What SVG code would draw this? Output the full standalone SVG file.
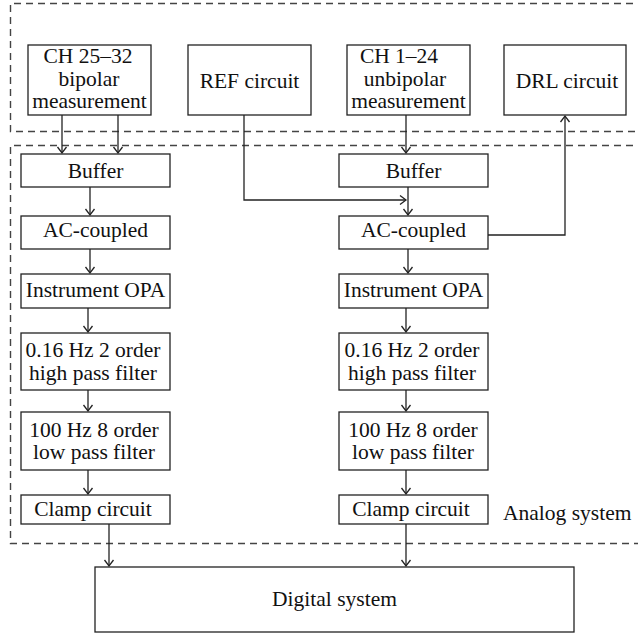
<svg xmlns="http://www.w3.org/2000/svg" width="638" height="636" viewBox="0 0 638 636">
<defs>
<style>
.box{fill:#fff;stroke:#222;stroke-width:1.3}
.dash{fill:none;stroke:#444;stroke-width:1.4;stroke-dasharray:7 5}
.ln{fill:none;stroke:#222;stroke-width:1.3}
.ah{fill:none;stroke:#222;stroke-width:1.3}
text{font-family:"Liberation Serif","Times New Roman",serif;font-size:21.5px;fill:#111;text-anchor:middle}
</style>
</defs>
<rect width="638" height="636" fill="#fff"/>
<g id="frames">
<path class="dash" d="M645,3.5 H10.5 V131.5 H645"/>
<path class="dash" d="M645,145.5 H10.5 V543.5 H645"/>
</g>
<g id="connectors">
<path class="ln" d="M62,115 V153"/><path class="ah" d="M57.5,147 L62,153 L66.5,147"/>
<path class="ln" d="M118,115 V153"/><path class="ah" d="M113.5,147 L118,153 L122.5,147"/>
<path class="ln" d="M406,115 V153"/><path class="ah" d="M401.5,147 L406,153 L410.5,147"/>
<path class="ln" d="M244,115 V200 H406"/><path class="ah" d="M400,195.5 L406,200 L400,204.5"/>
<path class="ln" d="M488,235 H565 V116"/><path class="ah" d="M560.5,122 L565,116 L569.5,122"/>
<path class="ln" d="M90,187 V215"/><path class="ah" d="M85.5,209 L90,215 L94.5,209"/>
<path class="ln" d="M90,249 V273"/><path class="ah" d="M85.5,267 L90,273 L94.5,267"/>
<path class="ln" d="M88,308 V332"/><path class="ah" d="M83.5,326 L88,332 L92.5,326"/>
<path class="ln" d="M88,390 V411"/><path class="ah" d="M83.5,405 L88,411 L92.5,405"/>
<path class="ln" d="M88,470 V494"/><path class="ah" d="M83.5,488 L88,494 L92.5,488"/>
<path class="ln" d="M408,187 V215"/><path class="ah" d="M403.5,209 L408,215 L412.5,209"/>
<path class="ln" d="M408,249 V273"/><path class="ah" d="M403.5,267 L408,273 L412.5,267"/>
<path class="ln" d="M406,308 V332"/><path class="ah" d="M401.5,326 L406,332 L410.5,326"/>
<path class="ln" d="M406,390 V411"/><path class="ah" d="M401.5,405 L406,411 L410.5,405"/>
<path class="ln" d="M406,470 V494"/><path class="ah" d="M401.5,488 L406,494 L410.5,488"/>
<path class="ln" d="M109,524 V566"/><path class="ah" d="M104.5,560 L109,566 L113.5,560"/>
<path class="ln" d="M406,524 V566"/><path class="ah" d="M401.5,560 L406,566 L410.5,560"/>
</g>
<g id="ch25"><rect class="box" x="28" y="45" width="123" height="70"/><text x="88" y="63">CH 25–32</text><text x="89" y="86">bipolar</text><text x="89.5" y="108">measurement</text></g>
<g id="ref"><rect class="box" x="188" y="45" width="123" height="70"/><text x="249.5" y="88">REF circuit</text></g>
<g id="ch1"><rect class="box" x="347" y="45" width="123" height="70"/><text x="399" y="63">CH 1–24</text><text x="405" y="86">unbipolar</text><text x="408.5" y="108">measurement</text></g>
<g id="drl"><rect class="box" x="504" y="45" width="122" height="70"/><text x="567" y="88">DRL circuit</text></g>
<g id="buf1"><rect class="box" x="21" y="154" width="149" height="33"/><text x="95.5" y="178">Buffer</text></g>
<g id="ac1"><rect class="box" x="21" y="216" width="149" height="33"/><text x="95.5" y="237">AC-coupled</text></g>
<g id="opa1"><rect class="box" x="21" y="274" width="149" height="34"/><text x="95.5" y="297">Instrument OPA</text></g>
<g id="hp1"><rect class="box" x="21" y="333" width="149" height="57"/><text x="93" y="357">0.16 Hz 2 order</text><text x="93" y="380">high pass filter</text></g>
<g id="lp1"><rect class="box" x="21" y="412" width="149" height="58"/><text x="94" y="437">100 Hz 8 order</text><text x="94" y="459">low pass filter</text></g>
<g id="cl1"><rect class="box" x="21" y="495" width="149" height="29"/><text x="93" y="516">Clamp circuit</text></g>
<g id="buf2"><rect class="box" x="339" y="154" width="149" height="33"/><text x="413.5" y="178">Buffer</text></g>
<g id="ac2"><rect class="box" x="339" y="216" width="149" height="33"/><text x="413.5" y="237">AC-coupled</text></g>
<g id="opa2"><rect class="box" x="339" y="274" width="149" height="34"/><text x="413.5" y="297">Instrument OPA</text></g>
<g id="hp2"><rect class="box" x="339" y="333" width="149" height="57"/><text x="412" y="357">0.16 Hz 2 order</text><text x="412" y="380">high pass filter</text></g>
<g id="lp2"><rect class="box" x="339" y="412" width="149" height="58"/><text x="413" y="437">100 Hz 8 order</text><text x="413" y="459">low pass filter</text></g>
<g id="cl2"><rect class="box" x="339" y="495" width="149" height="29"/><text x="411" y="516">Clamp circuit</text></g>
<g id="analog"><text x="503" y="520" style="text-anchor:start">Analog system</text></g>
<g id="digital"><rect class="box" x="95" y="567" width="479" height="65"/><text x="334.5" y="606">Digital system</text></g>
</svg>
